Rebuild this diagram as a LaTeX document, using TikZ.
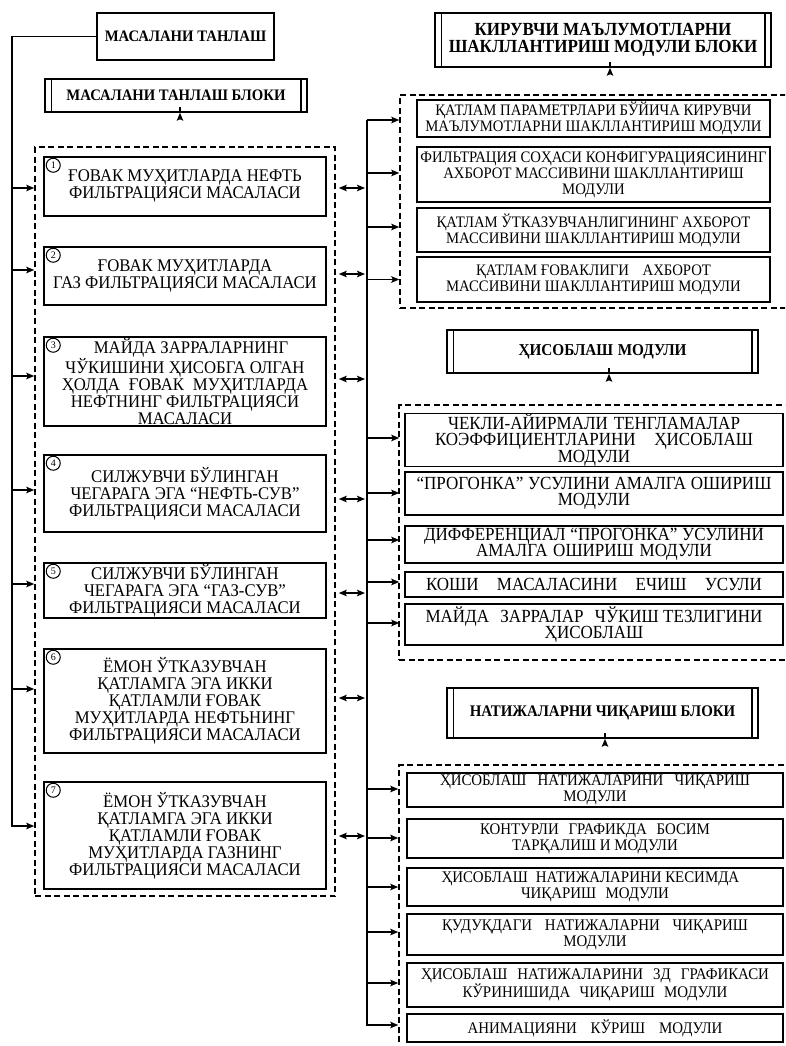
\documentclass[tikz,border=0pt]{standalone}
\usepackage{fontspec}
\setmainfont{Liberation Serif}
\newfontfamily\cf{Liberation Serif}[FakeStretch=0.92]
\newfontfamily\lf{Liberation Serif}[FakeStretch=0.94]
\usetikzlibrary{arrows.meta,calc}
\newcommand{\jl}[2]{\makebox[#1][s]{#2}}
\begin{document}
\begin{tikzpicture}[x=1pt,y=-1pt,
  lw/.style={line width=1.5pt},
  box/.style={draw, lw, align=center, inner sep=0pt, font=\lf\fontsize{17.8}{17}\selectfont},
  rbox/.style={box, font=\cf\fontsize{16}{16}\selectfont},
  sbox/.style={box, font=\cf\fontsize{18.5}{16.5}\selectfont},
  tbox/.style={box, font=\cf\fontsize{16.2}{16}\selectfont},
  hbox/.style={draw, lw, align=center, inner sep=0pt, font=\cf\bfseries\fontsize{16}{17}\selectfont},
  dbox/.style={draw, dash pattern=on 6pt off 3.5pt, line width=1.5pt, inner sep=0pt},
  tip/.tip={Stealth[length=8pt,width=6.5pt,inset=1.5pt]},
  arr/.style={lw, -tip},
  darr/.style={lw, tip-tip},
  num/.style={draw, circle, line width=1pt, inner sep=0pt, minimum size=14pt, font=\fontsize{10}{10}\selectfont},
]
\useasboundingbox (0,0) rectangle (785,1046);
\clip (0,0) rectangle (785,1046);
\fill[white] (0,0) rectangle (785,1046);

% ---------- left column ----------
\node[hbox, minimum width=177pt, minimum height=47pt] (h1) at (185.5,36.5) {МАСАЛАНИ ТАНЛАШ};
\node[hbox, minimum width=262pt, minimum height=33pt] (hb1) at (176,95.5) {МАСАЛАНИ ТАНЛАШ БЛОКИ};
\node[dbox, minimum width=300pt, minimum height=749pt] (ldash) at (185,521.5) {};

\node[box, minimum width=282pt, minimum height=59pt] (l1) at (185,186.5) {ҒОВАК МУҲИТЛАРДА НЕФТЬ\\ФИЛЬТРАЦИЯСИ МАСАЛАСИ};
\node[box, minimum width=282pt, minimum height=58pt] (l2) at (185,276) {ҒОВАК МУҲИТЛАРДА\\ГАЗ ФИЛЬТРАЦИЯСИ МАСАЛАСИ};
\node[box, minimum width=282pt, minimum height=89pt] (l3) at (185,381.5) {\hspace{12pt}МАЙДА ЗАРРАЛАРНИНГ\\ЧЎКИШИНИ ҲИСОБГА ОЛГАН\\ҲОЛДА\enspace ҒОВАК\enspace МУҲИТЛАРДА\\НЕФТНИНГ ФИЛЬТРАЦИЯСИ\\МАСАЛАСИ};
\node[box, minimum width=282pt, minimum height=77pt] (l4) at (185,493.5) {СИЛЖУВЧИ БЎЛИНГАН\\ЧЕГАРАГА ЭГА “НЕФТЬ-СУВ”\\ФИЛЬТРАЦИЯСИ МАСАЛАСИ};
\node[box, minimum width=282pt, minimum height=55pt] (l5) at (185,590.5) {СИЛЖУВЧИ БЎЛИНГАН\\ЧЕГАРАГА ЭГА “ГАЗ-СУВ”\\ФИЛЬТРАЦИЯСИ МАСАЛАСИ};
\node[box, minimum width=282pt, minimum height=104pt] (l6) at (185,701) {ЁМОН ЎТКАЗУВЧАН\\ҚАТЛАМГА ЭГА ИККИ\\ҚАТЛАМЛИ ҒОВАК\\МУҲИТЛАРДА НЕФТЬНИНГ\\ФИЛЬТРАЦИЯСИ МАСАЛАСИ};
\node[box, minimum width=282pt, minimum height=107pt] (l7) at (185,835.5) {ЁМОН ЎТКАЗУВЧАН\\ҚАТЛАМГА ЭГА ИККИ\\ҚАТЛАМЛИ ҒОВАК\\МУҲИТЛАРДА ГАЗНИНГ\\ФИЛЬТРАЦИЯСИ МАСАЛАСИ};

\foreach \b/\n in {l1/1,l2/2,l3/3,l4/4,l5/5,l6/6,l7/7}
  \node[num] (c\n) at ($(\b.north west)+(10,9)$) {\n};

% ---------- right column ----------
\node[hbox, font=\cf\bfseries\fontsize{18.5}{17}\selectfont, minimum width=336pt, minimum height=54pt] (h2) at (603,40) {КИРУВЧИ МАЪЛУМОТЛАРНИ\\ШАКЛЛАНТИРИШ МОДУЛИ БЛОКИ};
\node[dbox, minimum width=400pt, minimum height=213pt] (rd1) at (600,201.5) {};
\node[rbox, minimum width=353pt, minimum height=37pt] (r1) at (593.5,118.5) {ҚАТЛАМ ПАРАМЕТРЛАРИ БЎЙИЧА КИРУВЧИ\\МАЪЛУМОТЛАРНИ ШАКЛЛАНТИРИШ МОДУЛИ};
\node[rbox, minimum width=353pt, minimum height=55pt] (r2) at (593.5,174.5) {ФИЛЬТРАЦИЯ СОҲАСИ КОНФИГУРАЦИЯСИНИНГ\\АХБОРОТ МАССИВИНИ ШАКЛЛАНТИРИШ\\МОДУЛИ};
\node[rbox, minimum width=353pt, minimum height=44pt] (r3) at (593.5,230) {ҚАТЛАМ ЎТКАЗУВЧАНЛИГИНИНГ АХБОРОТ\\МАССИВИНИ ШАКЛЛАНТИРИШ МОДУЛИ};
\node[rbox, minimum width=353pt, minimum height=45pt] (r4) at (593.5,279.5) {ҚАТЛАМ ҒОВАКЛИГИ\hspace{10pt} АХБОРОТ\\МАССИВИНИ ШАКЛЛАНТИРИШ МОДУЛИ};

\node[hbox, font=\cf\bfseries\fontsize{16.6}{17}\selectfont, minimum width=311pt, minimum height=43pt] (h3) at (602.5,351.5) {\jl{168pt}{ҲИСОБЛАШ МОДУЛИ}};
\node[dbox, minimum width=401pt, minimum height=255pt] (rd2) at (599.5,532.5) {};
\node[sbox, minimum width=378pt, minimum height=50pt] (s1) at (594,440) {\jl{292pt}{ЧЕКЛИ-АЙИРМАЛИ ТЕНГЛАМАЛАР}\\\jl{318pt}{КОЭФФИЦИЕНТЛАРИНИ ҲИСОБЛАШ}\\МОДУЛИ};
\node[sbox, minimum width=378pt, minimum height=43pt] (s2) at (594,493.5) {\jl{355pt}{“ПРОГОНКА” УСУЛИНИ АМАЛГА ОШИРИШ}\\МОДУЛИ};
\node[sbox, minimum width=378pt, minimum height=37pt] (s3) at (594,544.5) {\jl{340pt}{ДИФФЕРЕНЦИАЛ “ПРОГОНКА” УСУЛИНИ}\\\jl{236pt}{АМАЛГА ОШИРИШ МОДУЛИ}};
\node[sbox, minimum width=378pt, minimum height=25pt] (s4) at (594,584.5) {\jl{336pt}{КОШИ МАСАЛАСИНИ ЕЧИШ УСУЛИ}};
\node[sbox, minimum width=378pt, minimum height=41pt] (s5) at (594,624.5) {\jl{337pt}{МАЙДА ЗАРРАЛАР \mbox{ЧЎКИШ ТЕЗЛИГИНИ}}\\ҲИСОБЛАШ};

\node[hbox, font=\cf\bfseries\fontsize{16.2}{17}\selectfont, minimum width=311pt, minimum height=50pt] (h4) at (602.5,713) {НАТИЖАЛАРНИ ЧИҚАРИШ БЛОКИ};
\node[dbox, minimum width=401pt, minimum height=295pt] (rd3) at (599.5,912.5) {};
\node[tbox, minimum width=376pt, minimum height=34pt] (t1) at (595,790) {\jl{310pt}{ҲИСОБЛАШ НАТИЖАЛАРИНИ ЧИҚАРИШ}\\МОДУЛИ};
\node[tbox, minimum width=376pt, minimum height=39pt] (t2) at (595,838.5) {\jl{230pt}{КОНТУРЛИ ГРАФИКДА БОСИМ}\\ТАРҚАЛИШ И МОДУЛИ};
\node[tbox, minimum width=376pt, minimum height=38pt] (t3) at (595,887) {\jl{307pt}{ҲИСОБЛАШ\enspace \mbox{НАТИЖАЛАРИНИ КЕСИМДА}}\\\jl{148pt}{ЧИҚАРИШ МОДУЛИ}};
\node[tbox, minimum width=376pt, minimum height=41pt] (t4) at (595,934.5) {\jl{306pt}{ҚУДУҚДАГИ НАТИЖАЛАРНИ ЧИҚАРИШ}\\МОДУЛИ};
\node[tbox, minimum width=376pt, minimum height=44pt] (t5) at (595,985) {\jl{348pt}{ҲИСОБЛАШ НАТИЖАЛАРИНИ 3Д ГРАФИКАСИ}\\\jl{265pt}{КЎРИНИШИДА ЧИҚАРИШ МОДУЛИ}};
\node[tbox, minimum width=376pt, minimum height=28pt] (t6) at (595,1028) {\jl{255pt}{АНИМАЦИЯНИ КЎРИШ МОДУЛИ}};

% inner lines of header boxes
\foreach \h in {hb1,h2,h3,h4} {
  \draw[lw] ([xshift=7pt]\h.north west) -- ([xshift=7pt]\h.south west);
  \draw[lw] ([xshift=-7pt]\h.north east) -- ([xshift=-7pt]\h.south east);
}

% ---------- connectors ----------
\draw[arr] ($(hb1.south)+(4,0)$) -- ($(hb1.south)+(4,0)$ |- ldash.north);
\draw[arr] ($(h2.south)+(7,0)$) -- ($(h2.south)+(7,0)$ |- rd1.north);
\draw[arr] ($(h3.south)+(6.5,0)$) -- ($(h3.south)+(6.5,0)$ |- rd2.north);
\draw[arr] ($(h4.south)+(2.5,0)$) -- ($(h4.south)+(2.5,0)$ |- rd3.north);

% left trunk
\coordinate (lt) at (12,36.5);
\coordinate (lb) at (12,826);
\draw[arr] (h1.west) -- (lt) -- (lb) -- (ldash.west |- lb);
\foreach \b/\d in {l1/1.5,l2/-6,l3/-5.5,l4/-3.5,l5/-6.5,l6/-12} {
  \coordinate (tmp) at ($(\b)+(0,\d)$);
  \draw[arr] (lt |- tmp) -- (ldash.west |- tmp);
}

% middle trunk
\coordinate (mt) at (367,120);
\coordinate (mb) at (367,1025);
\draw[arr] (mt) -- (rd1.west |- mt);
\draw[arr] (mt) -- (mb) -- (rd3.west |- mb);
\foreach \b/\d in {r2/-1.5,r3/-3,r4/0,s1/-2,s2/-0.5,s3/-4.5,s4/-2.5,s5/-1.5} {
  \coordinate (tmp) at ($(\b)+(0,\d)$);
  \draw[arr] (mt |- tmp) -- (rd1.west |- tmp);
}
\foreach \b/\d in {t1/-1,t2/-0.5,t3/0,t4/-2.5,t5/-2} {
  \coordinate (tmp) at ($(\b)+(0,\d)$);
  \draw[arr] (mt |- tmp) -- (rd3.west |- tmp);
}

% double arrows
\foreach \b/\d in {l1/1.5,l2/-2,l3/-2.5,l4/5.5,l5/2.5,l6/-3,l7/0.5} {
  \coordinate (tmp) at ($(\b)+(0,\d)$);
  \draw[darr, shorten <=3pt, shorten >=2pt] (ldash.east |- tmp) -- (mt |- tmp);
}
\end{tikzpicture}
\end{document}
